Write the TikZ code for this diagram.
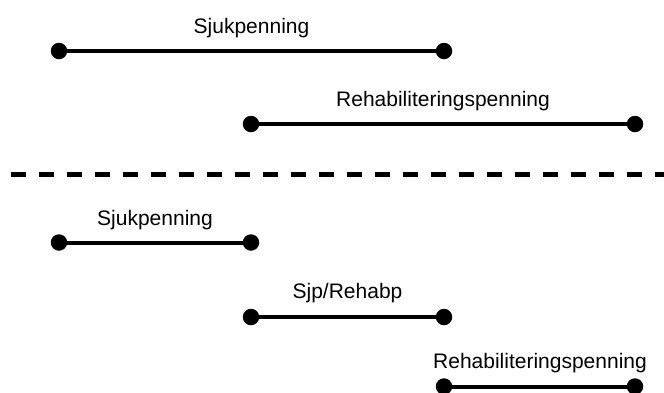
\documentclass[tikz,border=0pt]{standalone}
\usepackage{fontspec}
\setmainfont{Liberation Sans}
\begin{document}
\begin{tikzpicture}[x=1pt,y=-1pt,
  dot/.style={circle,fill=black,inner sep=0pt,minimum size=16.5pt},
  seg/.style={line width=4pt,black},
  lbl/.style={anchor=base,inner sep=0pt,font=\fontsize{21}{25}\selectfont},
  sep/.style={line width=4.5pt,black,dash pattern=on 15.7pt off 12.3pt}]
\useasboundingbox (0,0) rectangle (664,392);
% top: two periods
\node[dot] (a1) at (59,51) {};
\node[dot] (b1) at (444,51) {};
\draw[seg] (a1.center) -- (b1.center);
\node[lbl] (t1) at (251.5,33) {Sjukpenning};
\node[dot] (a2) at (251,124) {};
\node[dot] (b2) at (635,124) {};
\draw[seg] (a2.center) -- (b2.center);
\node[lbl] (t2) at (443,106) {Rehabiliteringspenning};
% separator
\coordinate (s1) at (10.6,174.5);
\coordinate (s2) at (668,174.5);
\draw[sep] (s1) -- (s2);
% bottom: three periods
\node[dot] (a3) at (59,242.5) {};
\node[dot] (b3) at (251,242.5) {};
\draw[seg] (a3.center) -- (b3.center);
\node[lbl] (t3) at (155,225.5) {Sjukpenning};
\node[dot] (a4) at (251,317) {};
\node[dot] (b4) at (444,317) {};
\draw[seg] (a4.center) -- (b4.center);
\node[lbl] (t4) at (347.5,298.5) {Sjp/Rehabp};
\node[dot] (a5) at (444,386.5) {};
\node[dot] (b5) at (635,386.5) {};
\draw[seg] (a5.center) -- (b5.center);
\node[lbl] (t5) at (540,368) {Rehabiliteringspenning};
\end{tikzpicture}
\end{document}
